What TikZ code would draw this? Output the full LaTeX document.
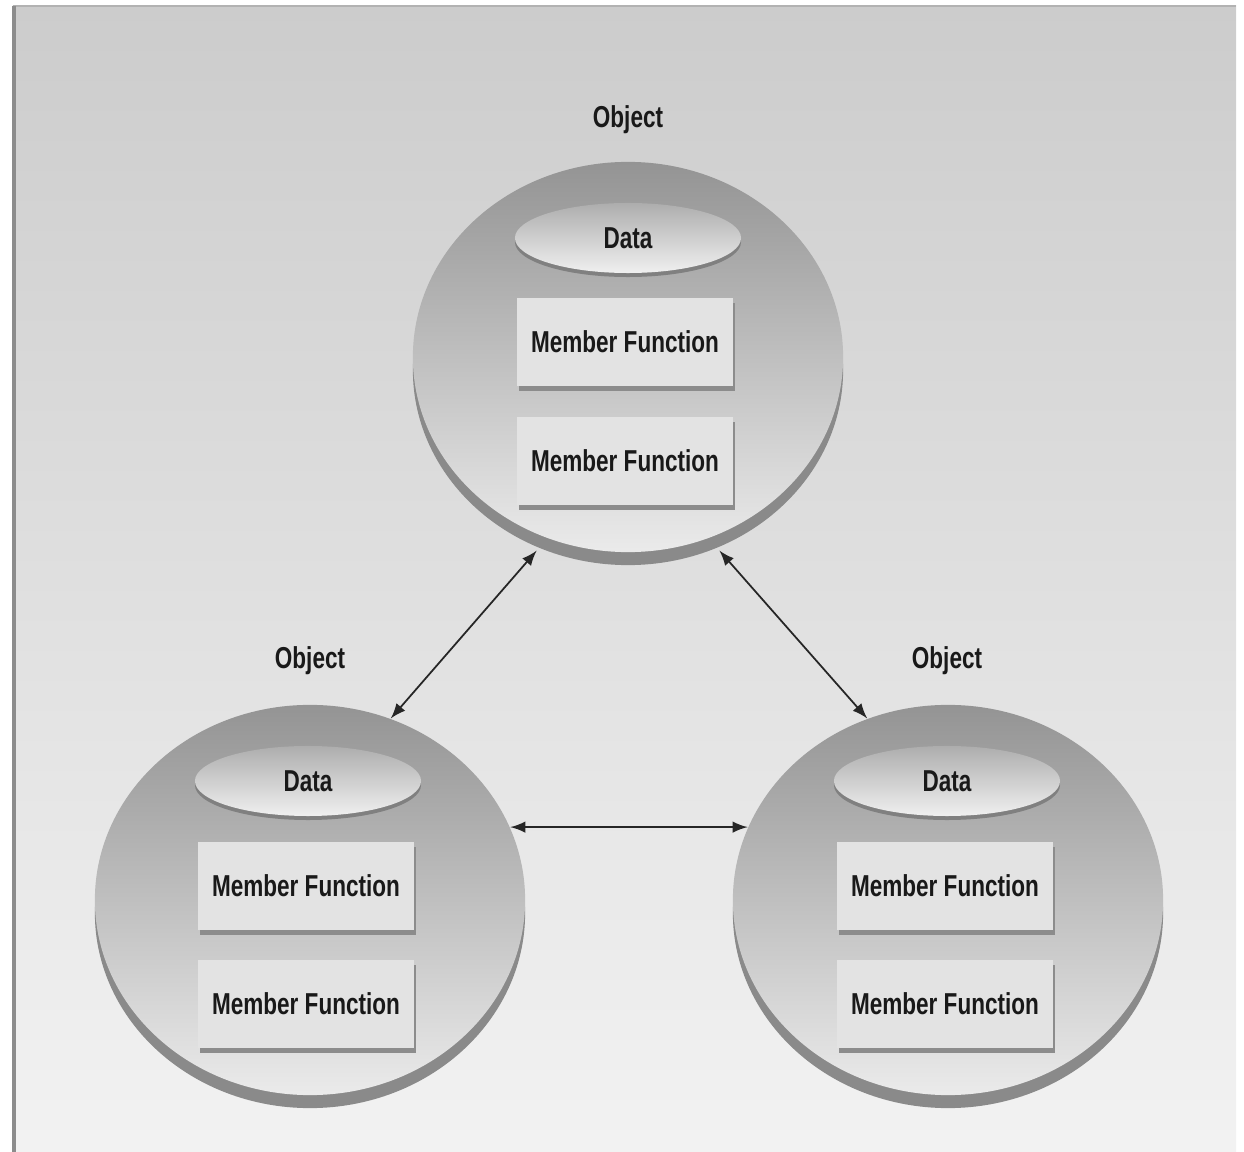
\documentclass[tikz,border=0pt]{standalone}
\usepackage{fontspec}
\newfontfamily\figfont[FakeStretch=0.745]{Liberation Sans}
\usetikzlibrary{shapes.geometric}
\usetikzlibrary{shadows}

\tikzset{
	objcircle/.style={ellipse, minimum width=4.3cm, minimum height=3.9cm, inner sep=0pt,
		top color=black!42, bottom color=black!8,
		general shadow={fill=black!46, shadow yshift=-1.3mm}},
	dataoval/.style={ellipse, minimum width=2.26cm, minimum height=0.7cm, inner sep=0pt,
		top color=black!32, bottom color=black!6,
		general shadow={fill=black!50, shadow yshift=-0.4mm},
		font=\figfont\bfseries\fontsize{8.6pt}{10pt}\selectfont, text=black!90},
	funcbox/.style={rectangle, minimum width=2.16cm, minimum height=0.87cm, inner sep=0pt,
		fill=black!11,
		general shadow={fill=black!45, shadow xshift=0.2mm, shadow yshift=-0.5mm},
		font=\figfont\bfseries\fontsize{8.6pt}{10pt}\selectfont, text=black!90},
	objlabel/.style={font=\figfont\bfseries\fontsize{8.6pt}{10pt}\selectfont, text=black!90},
	link/.style={latex-latex, black!85, line width=0.5pt},
}

\begin{document}
\begin{tikzpicture}[x=0.01cm, y=-0.01cm]
	\useasboundingbox (0,0) rectangle (1244,1152);
	
	% backdrop
	\shade[top color=black!20, bottom color=black!5] (13,6) rectangle (1236,1152);
	\draw[black!30, line width=0.5pt] (13,6) -- (1236,6);
	\draw[black!45, line width=1pt] (14,6) -- (14,1152);
	
	\begin{scope}[shift={(628,357)}]
		\node[objcircle] (obj1) at (0,0) {};
		\node[objlabel] (name1) at (0,-237) {Object};
		\node[dataoval] (data1) at (0,-119) {Data};
		\node[funcbox] (fun1a) at (-3,-15) {Member Function};
		\node[funcbox] (fun1b) at (-3,104) {Member Function};
	\end{scope}
	\begin{scope}[shift={(310,900)}]
		\node[objcircle] (obj2) at (0,0) {};
		\node[objlabel] (name2) at (0,-239) {Object};
		\node[dataoval] (data2) at (-2,-119) {Data};
		\node[funcbox] (fun2a) at (-4,-14) {Member Function};
		\node[funcbox] (fun2b) at (-4,104) {Member Function};
	\end{scope}
	\begin{scope}[shift={(948,900)}]
		\node[objcircle] (obj3) at (0,0) {};
		\node[objlabel] (name3) at (-1,-239) {Object};
		\node[dataoval] (data3) at (-1,-119) {Data};
		\node[funcbox] (fun3a) at (-3,-14) {Member Function};
		\node[funcbox] (fun3b) at (-3,104) {Member Function};
	\end{scope}
	
	\draw[link, shorten <=1.6mm] (obj1.246) -- (obj2.66);
	\draw[link, shorten <=1.6mm] (obj1.294) -- (obj3.114);
	\draw[link] (obj2.20) -- (obj3.160);
\end{tikzpicture}
\end{document}
